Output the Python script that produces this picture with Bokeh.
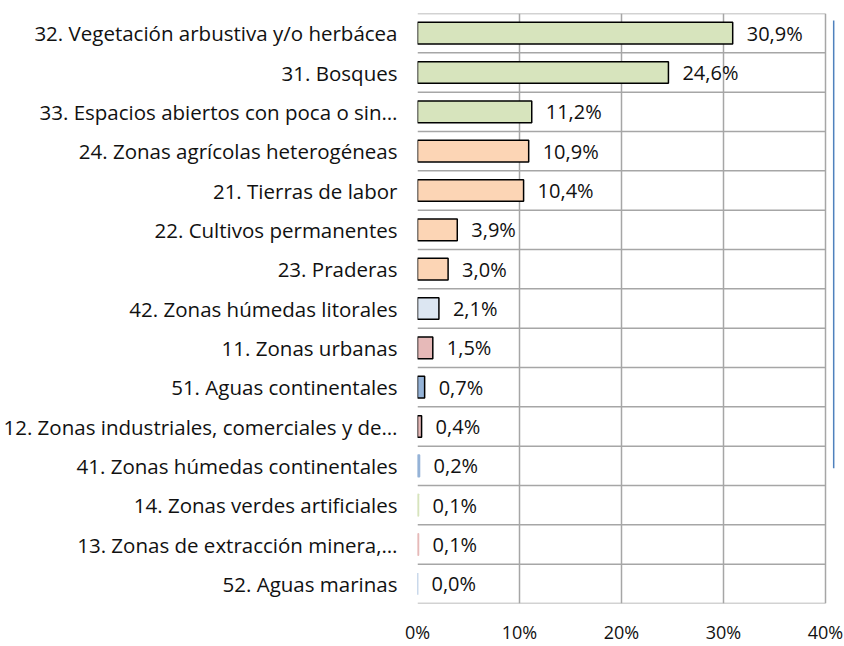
from bokeh.plotting import figure
from bokeh.models import Range1d, FixedTicker, ColumnDataSource
from bokeh.core.properties import value
from bokeh.embed import file_html
from bokeh.resources import INLINE

categories = [
    "32. Vegetación arbustiva y/o herbácea",
    "31. Bosques",
    "33. Espacios abiertos con poca o sin…",
    "24. Zonas agrícolas heterogéneas",
    "21. Tierras de labor",
    "22. Cultivos permanentes",
    "23. Praderas",
    "42. Zonas húmedas litorales",
    "11. Zonas urbanas",
    "51. Aguas continentales",
    "12. Zonas industriales, comerciales y de…",
    "41. Zonas húmedas continentales",
    "14. Zonas verdes artificiales",
    "13. Zonas de extracción minera,…",
    "52. Aguas marinas",
]
values = [30.9, 24.6, 11.2, 10.9, 10.4, 3.9, 3.0, 2.1, 1.5, 0.7, 0.4, 0.2, 0.1, 0.1, 0.0]
fill_colors = ["#D7E4BD", "#D7E4BD", "#D7E4BD", "#FCD5B5", "#FCD5B5", "#FCD5B5", "#FCD5B5",
               "#DCE6F2", "#E6B9B8", "#95B3D7", "#E6B9B8", "#95B3D7", "#D7E4BD", "#E6B9B8", "#95B3D7"]
line_colors = ["black"] * 11 + ["#95B3D7", "#D7E4BD", "#E6B9B8", "#95B3D7"]
x_ticks = [0, 10, 20, 30, 40]
x_tick_labels = ["0%", "10%", "20%", "30%", "40%"]

FONT = "Open Sans"
n = len(categories)
ys = list(range(n))
labels = [("%.1f" % v).replace(".", ",") + "%" for v in values]

src = ColumnDataSource(dict(y=ys, v=values, fill=fill_colors, line=line_colors, lab=labels))

p = figure(width=844, height=646, output_backend="svg", toolbar_location=None,
           x_range=Range1d(0, 41.86), y_range=Range1d(n - 0.5, -0.5),
           min_border_left=416, min_border_right=0, min_border_top=13, min_border_bottom=36)
p.outline_line_color = None
p.background_fill_color = "white"

# vertical grid
p.xgrid.ticker = FixedTicker(ticks=x_ticks)
p.xgrid.grid_line_color = "#a6a6a6"
p.xgrid.grid_line_width = 1.5
p.ygrid.grid_line_color = None

# horizontal row boundaries limited to the 0-40 plot area
bounds = [i - 0.5 for i in range(n + 1)]
p.segment(x0=[x_ticks[0]] * len(bounds), x1=[x_ticks[-1]] * len(bounds), y0=bounds, y1=bounds,
          line_color="#a6a6a6", line_width=1.5)

p.hbar(y="y", left=0, right="v", height=0.55, source=src, fill_color="fill",
       line_color="line", line_width=1.5)

p.text(x="v", y="y", text="lab", source=src, x_offset=14, text_align="left",
       text_baseline="middle", text_font=value(FONT), text_font_size="20px", text_color="#111111")

# blue border fragment at the right
p.segment(x0=[40.8], x1=[40.8], y0=[-0.32], y1=[11.06], line_color="#4F81BD", line_width=1.5)

p.xaxis.ticker = FixedTicker(ticks=x_ticks)
p.xaxis.major_label_overrides = {t: l for t, l in zip(x_ticks, x_tick_labels)}
p.xaxis.axis_line_color = None
p.xaxis.major_tick_line_color = None
p.xaxis.minor_tick_line_color = None
p.xaxis.major_tick_out = 0
p.xaxis.major_label_standoff = 16
p.xaxis.major_label_text_font = FONT
p.xaxis.major_label_text_font_size = "18px"
p.xaxis.major_label_text_color = "#111111"

p.yaxis.ticker = FixedTicker(ticks=ys)
p.yaxis.major_label_overrides = {i: c for i, c in enumerate(categories)}
p.yaxis.axis_line_color = None
p.yaxis.major_tick_line_color = None
p.yaxis.minor_tick_line_color = None
p.yaxis.major_tick_out = 0
p.yaxis.major_label_standoff = 20
p.yaxis.major_label_text_font = FONT
p.yaxis.major_label_text_font_size = "20.5px"
p.yaxis.major_label_text_color = "#111111"

open("out.html", "w").write(file_html(p, INLINE))
